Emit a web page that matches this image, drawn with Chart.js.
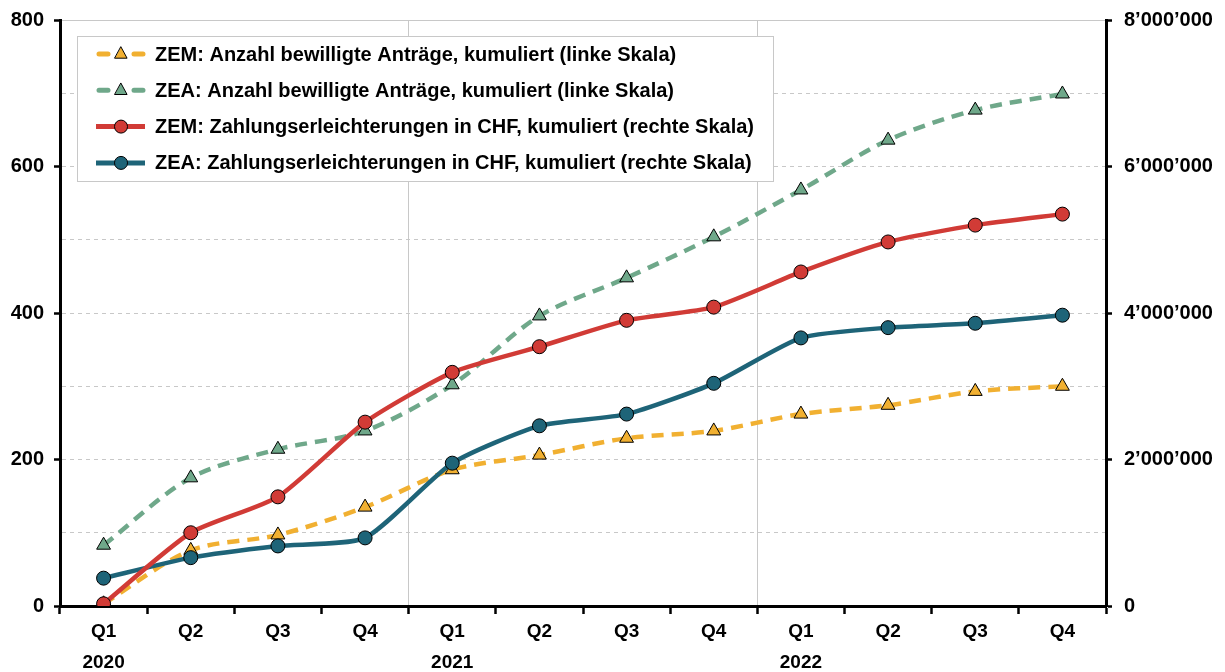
<!DOCTYPE html>
<html>
<head>
<meta charset="utf-8">
<script src="https://cdn.jsdelivr.net/npm/chart.js@4"></script>
<style>
  html, body { margin: 0; padding: 0; background: #fff; }
  #wrap { width: 1225px; height: 672px; }
</style>
</head>
<body>
<div id="wrap"><canvas id="chart" width="1225" height="672"></canvas></div>
<script>
// Data
const quarters = ["Q1", "Q2", "Q3", "Q4", "Q1", "Q2", "Q3", "Q4", "Q1", "Q2", "Q3", "Q4"];
const years = ["2020", "", "", "", "2021", "", "", "", "2022", "", "", ""];

// left scale (number of approved requests, cumulative)
const zemCount = [3, 76, 97, 135, 186, 206, 229, 239, 262, 274, 293, 300];
const zeaCount = [83, 175, 214, 239, 302, 396, 448, 504, 568, 636, 677, 699];
// right scale (CHF, cumulative)
const zemChf = [30000, 1000000, 1490000, 2510000, 3190000, 3540000, 3900000, 4080000, 4560000, 4970000, 5200000, 5350000];
const zeaChf = [380000, 660000, 820000, 930000, 1950000, 2460000, 2620000, 3040000, 3660000, 3800000, 3860000, 3970000];

const seriesNames = [
  "ZEM: Anzahl bewilligte Anträge, kumuliert (linke Skala)",
  "ZEA: Anzahl bewilligte Anträge, kumuliert (linke Skala)",
  "ZEM: Zahlungserleichterungen in CHF, kumuliert (rechte Skala)",
  "ZEA: Zahlungserleichterungen in CHF, kumuliert (rechte Skala)"
];

const orange = "#f1b031";
const green = "#6fa88a";
const red = "#d13b36";
const teal = "#1e6478";

const labels = quarters.map((q, i) => (years[i] ? [q, years[i]] : q));

function swissFormat(v) {
  return String(v).replace(/\B(?=(\d{3})+(?!\d))/g, "\u2019");
}

Chart.defaults.font.family = "'Liberation Sans', Arial, sans-serif";
Chart.defaults.font.weight = "bold";
Chart.defaults.font.size = 20;
Chart.defaults.color = "#000";

// fixed axis sizes so the plot area sits where it does in the reference
function fixBox(size, horizontal) {
  return (scale) => {
    if (horizontal) scale.height = size; else scale.width = size;
    scale.paddingTop = 0;
    scale.paddingBottom = 0;
    scale.paddingLeft = 0;
    scale.paddingRight = 0;
  };
}

// legend drawn inside the plot with line + marker samples
const boxLegend = {
  id: "boxLegend",
  afterDraw(chart) {
    const ctx = chart.ctx;
    const x0 = 77, y0 = 36, w = 696, h = 145;
    ctx.save();
    ctx.fillStyle = "#fff";
    ctx.fillRect(x0, y0, w, h);
    ctx.strokeStyle = "#c8c8c8";
    ctx.lineWidth = 1;
    ctx.strokeRect(x0 + 0.5, y0 + 0.5, w, h);
    chart.data.datasets.forEach((ds, i) => {
      const y = 54 + i * 36.3;
      ctx.beginPath();
      ctx.strokeStyle = ds.borderColor;
      ctx.lineWidth = 5;
      if (ds.borderDash) {
        ctx.lineCap = "round";
        ctx.moveTo(99, y); ctx.lineTo(108, y);
        ctx.moveTo(134, y); ctx.lineTo(143, y);
      } else {
        ctx.lineCap = "butt";
        ctx.moveTo(96, y); ctx.lineTo(145, y);
      }
      ctx.stroke();
      ctx.fillStyle = ds.pointBackgroundColor;
      ctx.strokeStyle = "#000";
      ctx.lineWidth = 1;
      ctx.beginPath();
      if (ds.pointStyle === "triangle") {
        const r = 7;
        ctx.moveTo(121, y - r);
        ctx.lineTo(121 + r * 0.87, y + r * 0.6);
        ctx.lineTo(121 - r * 0.87, y + r * 0.6);
        ctx.closePath();
      } else {
        ctx.arc(121, y, 6.5, 0, Math.PI * 2);
      }
      ctx.fill();
      ctx.stroke();
      ctx.fillStyle = "#000";
      ctx.font = "bold 20px 'Liberation Sans', Arial, sans-serif";
      ctx.textBaseline = "middle";
      ctx.textAlign = "left";
      ctx.fillText(seriesNames[i], 155, y + 1);
    });
    ctx.restore();
  }
};

new Chart(document.getElementById("chart"), {
  type: "line",
  data: {
    labels: labels,
    datasets: [
      {
        label: seriesNames[0],
        data: zemCount,
        yAxisID: "y",
        borderColor: orange,
        borderWidth: 4.5,
        borderDash: [12, 8],
        tension: 0.3,
        pointStyle: "triangle",
        pointRadius: 8,
        pointBackgroundColor: orange,
        pointBorderColor: "#000",
        pointBorderWidth: 1,
        order: 4
      },
      {
        label: seriesNames[1],
        data: zeaCount,
        yAxisID: "y",
        borderColor: green,
        borderWidth: 4.5,
        borderDash: [12, 8],
        tension: 0.3,
        pointStyle: "triangle",
        pointRadius: 8,
        pointBackgroundColor: green,
        pointBorderColor: "#000",
        pointBorderWidth: 1,
        order: 3
      },
      {
        label: seriesNames[2],
        data: zemChf,
        yAxisID: "y1",
        borderColor: red,
        borderWidth: 4.5,
        tension: 0.2,
        pointStyle: "circle",
        pointRadius: 7,
        pointBackgroundColor: red,
        pointBorderColor: "#000",
        pointBorderWidth: 1,
        order: 1
      },
      {
        label: seriesNames[3],
        data: zeaChf,
        yAxisID: "y1",
        borderColor: teal,
        borderWidth: 4.5,
        tension: 0.2,
        pointStyle: "circle",
        pointRadius: 7,
        pointBackgroundColor: teal,
        pointBorderColor: "#000",
        pointBorderWidth: 1,
        order: 2
      }
    ]
  },
  options: {
    responsive: false,
    animation: false,
    devicePixelRatio: 1,
    layout: { padding: { top: 20, left: 0, right: 0, bottom: 0 } },
    plugins: {
      legend: { display: false },
      tooltip: { enabled: false }
    },
    scales: {
      x: {
        offset: true,
        afterFit: fixBox(66, true),
        grid: {
          offset: true,
          color: (c) => (c.index === 4 || c.index === 8 ? "#c8c8c8" : "transparent"),
          lineWidth: 1,
          tickColor: "#000",
          tickLength: 8,
          tickWidth: 2.5
        },
        border: { color: "#000", width: 3 },
        ticks: {
          maxRotation: 0,
          autoSkip: false,
          padding: 3,
          font: { size: 19, weight: "bold", lineHeight: 1.6 }
        }
      },
      y: {
        position: "left",
        min: 0,
        max: 800,
        afterFit: fixBox(60, false),
        ticks: {
          stepSize: 100,
          padding: 10,
          callback: (v) => (v % 200 === 0 ? v : "")
        },
        grid: {
          color: "#c8c8c8",
          lineWidth: 1,
          tickColor: (c) => (c.tick && c.tick.value % 200 === 0 ? "#000" : "transparent"),
          tickLength: 6,
          tickWidth: 2.5
        },
        border: {
          color: "#000",
          width: 3,
          dash: (c) => (c.tick && c.tick.value === 800 ? [] : [4, 4])
        }
      },
      y1: {
        position: "right",
        min: 0,
        max: 8000000,
        afterFit: fixBox(119, false),
        ticks: {
          stepSize: 2000000,
          padding: 12,
          callback: (v) => swissFormat(v)
        },
        grid: {
          drawOnChartArea: false,
          tickColor: "#000",
          tickLength: 6,
          tickWidth: 2.5
        },
        border: { color: "#000", width: 3 }
      }
    }
  },
  plugins: [boxLegend]
});
</script>
</body>
</html>
